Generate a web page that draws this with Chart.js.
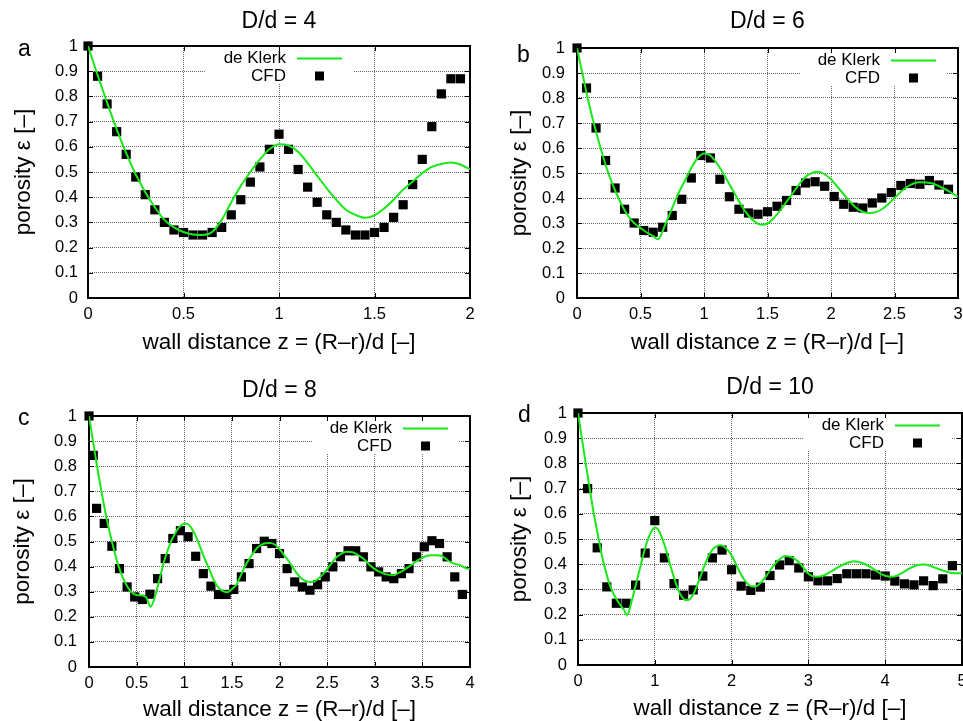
<!DOCTYPE html>
<html>
<head>
<meta charset="utf-8">
<title>porosity profiles</title>
<script src="https://cdn.jsdelivr.net/npm/chart.js@4.4.1/dist/chart.umd.min.js"></script>
<style>
  html, body { margin: 0; padding: 0; background: #fff; overflow: hidden; }
  body { width: 963px; height: 721px; position: relative; }
  canvas { position: absolute; }
</style>
</head>
<body>
<canvas id="chart-a" width="481" height="361" style="left:0;top:0"></canvas>
<canvas id="chart-b" width="490" height="361" style="left:481px;top:0"></canvas>
<canvas id="chart-c" width="481" height="360" style="left:0;top:361px"></canvas>
<canvas id="chart-d" width="490" height="360" style="left:481px;top:361px"></canvas>
<script>
// ---- data ----
var yTicks = [0, 0.1, 0.2, 0.3, 0.4, 0.5, 0.6, 0.7, 0.8, 0.9, 1];
var yTickLabels = ['0', '0.1', '0.2', '0.3', '0.4', '0.5', '0.6', '0.7', '0.8', '0.9', '1'];

// a) D/d = 4
var xTicksA = [0, 0.5, 1, 1.5, 2];
var zCfdA = [0, 0.05, 0.1, 0.15, 0.2, 0.25, 0.3, 0.35, 0.4, 0.45, 0.5, 0.55, 0.6, 0.65, 0.7, 0.75, 0.8, 0.85, 0.9, 0.95,
             1.0, 1.05, 1.1, 1.15, 1.2, 1.25, 1.3, 1.35, 1.4, 1.45, 1.5, 1.55, 1.6, 1.65, 1.7, 1.75, 1.8, 1.85, 1.9, 1.95];
var epsCfdA = [1.0, 0.88, 0.77, 0.66, 0.57, 0.48, 0.41, 0.35, 0.30, 0.27, 0.26, 0.25, 0.25, 0.26, 0.28, 0.33, 0.39, 0.46, 0.52, 0.59,
               0.65, 0.59, 0.51, 0.44, 0.38, 0.33, 0.30, 0.27, 0.25, 0.25, 0.26, 0.28, 0.32, 0.37, 0.45, 0.55, 0.68, 0.81, 0.87, 0.87];
var zKlerkA = [0, 0.05, 0.1, 0.15, 0.2, 0.25, 0.3, 0.35, 0.4, 0.45, 0.5, 0.55, 0.6, 0.65, 0.7, 0.75, 0.8, 0.85, 0.9, 0.95,
               1.0, 1.05, 1.1, 1.15, 1.2, 1.25, 1.3, 1.35, 1.4, 1.45, 1.5, 1.55, 1.6, 1.65, 1.7, 1.75, 1.8, 1.85, 1.9, 1.95, 2.0];
var epsKlerkA = [1.0, 0.885, 0.775, 0.67, 0.575, 0.49, 0.42, 0.36, 0.31, 0.28, 0.262, 0.252, 0.25, 0.262, 0.31, 0.38, 0.445, 0.50, 0.55, 0.59,
                 0.61, 0.605, 0.58, 0.535, 0.485, 0.435, 0.39, 0.35, 0.33, 0.318, 0.328, 0.355, 0.39, 0.43, 0.462, 0.495, 0.52, 0.532, 0.538, 0.53, 0.51];

// b) D/d = 6
var xTicksB = [0, 0.5, 1, 1.5, 2, 2.5, 3];
var zCfdB = [0, 0.075, 0.15, 0.225, 0.3, 0.375, 0.45, 0.525, 0.6, 0.675, 0.75, 0.825, 0.9, 0.975, 1.05, 1.125, 1.2, 1.275, 1.35, 1.425,
             1.5, 1.575, 1.65, 1.725, 1.8, 1.875, 1.95, 2.025, 2.1, 2.175, 2.25, 2.325, 2.4, 2.475, 2.55, 2.625, 2.7, 2.775, 2.85, 2.925];
var epsCfdB = [1.0, 0.84, 0.68, 0.55, 0.44, 0.355, 0.30, 0.27, 0.263, 0.283, 0.33, 0.395, 0.48, 0.57, 0.56, 0.475, 0.405, 0.355, 0.34, 0.335,
               0.345, 0.367, 0.39, 0.43, 0.46, 0.465, 0.447, 0.406, 0.375, 0.363, 0.36, 0.38, 0.40, 0.422, 0.45, 0.458, 0.455, 0.47, 0.452, 0.435];
var zKlerkB = [0, 0.05, 0.1, 0.15, 0.2, 0.25, 0.3, 0.35, 0.4, 0.45, 0.5, 0.55, 0.6, 0.637, 0.7, 0.75, 0.8, 0.85, 0.9, 0.95,
               1.0, 1.05, 1.1, 1.15, 1.2, 1.25, 1.3, 1.35, 1.4, 1.45, 1.5, 1.55, 1.6, 1.65, 1.7, 1.75, 1.8, 1.85, 1.9, 1.95,
               2.0, 2.05, 2.1, 2.15, 2.2, 2.25, 2.3, 2.35, 2.4, 2.45, 2.5, 2.55, 2.6, 2.65, 2.7, 2.75, 2.8, 2.85, 2.9, 2.95, 3.0];
var epsKlerkB = [1.0, 0.88, 0.765, 0.665, 0.575, 0.495, 0.43, 0.375, 0.33, 0.30, 0.28, 0.262, 0.248, 0.235, 0.30, 0.36, 0.42, 0.47, 0.52, 0.56,
                 0.578, 0.57, 0.54, 0.50, 0.455, 0.41, 0.365, 0.33, 0.305, 0.293, 0.298, 0.32, 0.35, 0.385, 0.42, 0.455, 0.485, 0.50, 0.505, 0.495,
                 0.475, 0.445, 0.415, 0.385, 0.36, 0.345, 0.34, 0.343, 0.355, 0.375, 0.40, 0.425, 0.445, 0.458, 0.463, 0.462, 0.458, 0.447, 0.435, 0.42, 0.405];

// c) D/d = 8
var xTicksC = [0, 0.5, 1, 1.5, 2, 2.5, 3, 3.5, 4];
var zCfdC = [0, 0.045, 0.08, 0.16, 0.24, 0.32, 0.40, 0.48, 0.56, 0.64, 0.72, 0.80, 0.88, 0.96, 1.04, 1.12, 1.20, 1.28, 1.36, 1.44,
             1.52, 1.60, 1.68, 1.76, 1.84, 1.92, 2.00, 2.08, 2.16, 2.24, 2.32, 2.40, 2.48, 2.56, 2.64, 2.72, 2.80, 2.88, 2.96, 3.04,
             3.12, 3.20, 3.28, 3.36, 3.44, 3.52, 3.60, 3.68, 3.76, 3.84, 3.92];
var epsCfdC = [1.0, 0.843, 0.632, 0.572, 0.481, 0.392, 0.319, 0.279, 0.269, 0.290, 0.352, 0.432, 0.512, 0.543, 0.519, 0.441, 0.372, 0.322, 0.289, 0.289,
               0.309, 0.359, 0.412, 0.472, 0.501, 0.492, 0.452, 0.392, 0.339, 0.319, 0.306, 0.328, 0.359, 0.399, 0.439, 0.463, 0.463, 0.439, 0.399, 0.379,
               0.359, 0.352, 0.372, 0.392, 0.439, 0.479, 0.503, 0.492, 0.439, 0.359, 0.289];
var zKlerkC = [0, 0.05, 0.1, 0.15, 0.2, 0.25, 0.3, 0.35, 0.4, 0.45, 0.5, 0.55, 0.6, 0.647, 0.7, 0.75, 0.8, 0.85, 0.9, 0.95,
               1.0, 1.05, 1.1, 1.15, 1.2, 1.25, 1.3, 1.35, 1.4, 1.45, 1.5, 1.55, 1.6, 1.65, 1.7, 1.75, 1.8, 1.85, 1.9, 1.95,
               2.0, 2.05, 2.1, 2.15, 2.2, 2.25, 2.3, 2.35, 2.4, 2.45, 2.5, 2.55, 2.6, 2.65, 2.7, 2.75, 2.8, 2.85, 2.9, 2.95,
               3.0, 3.05, 3.1, 3.15, 3.2, 3.25, 3.3, 3.35, 3.4, 3.45, 3.5, 3.55, 3.6, 3.65, 3.7, 3.75, 3.8, 3.85, 3.9, 3.95, 4.0];
var epsKlerkC = [1.0, 0.88, 0.765, 0.66, 0.565, 0.485, 0.415, 0.36, 0.322, 0.297, 0.287, 0.285, 0.278, 0.24, 0.29, 0.365, 0.435, 0.49, 0.53, 0.558,
                 0.572, 0.566, 0.538, 0.495, 0.445, 0.40, 0.355, 0.32, 0.303, 0.298, 0.31, 0.33, 0.37, 0.41, 0.44, 0.468, 0.485, 0.493, 0.494, 0.488,
                 0.47, 0.445, 0.42, 0.39, 0.365, 0.347, 0.34, 0.339, 0.35, 0.367, 0.39, 0.415, 0.438, 0.452, 0.459, 0.458, 0.452, 0.44, 0.425, 0.405,
                 0.39, 0.38, 0.371, 0.367, 0.366, 0.375, 0.385, 0.398, 0.41, 0.425, 0.435, 0.443, 0.445, 0.445, 0.443, 0.43, 0.417, 0.41, 0.405, 0.395, 0.39];

// d) D/d = 10
var xTicksD = [0, 1, 2, 3, 4, 5];
var zCfdD = [0, 0.125, 0.25, 0.375, 0.5, 0.625, 0.75, 0.875, 1.0, 1.125, 1.25, 1.375, 1.5, 1.625, 1.75, 1.875, 2.0, 2.125, 2.25, 2.375,
             2.5, 2.625, 2.75, 2.875, 3.0, 3.125, 3.25, 3.375, 3.5, 3.625, 3.75, 3.875, 4.0, 4.125, 4.25, 4.375, 4.5, 4.625, 4.75, 4.875];
var epsCfdD = [1.0, 0.70, 0.465, 0.31, 0.245, 0.245, 0.317, 0.444, 0.573, 0.425, 0.323, 0.277, 0.298, 0.353, 0.425, 0.456, 0.378, 0.313, 0.296, 0.309,
               0.355, 0.397, 0.414, 0.385, 0.35, 0.334, 0.334, 0.343, 0.362, 0.362, 0.362, 0.357, 0.353, 0.333, 0.322, 0.318, 0.334, 0.315, 0.342, 0.394];
var zKlerkD = [0, 0.05, 0.1, 0.15, 0.2, 0.25, 0.3, 0.35, 0.4, 0.45, 0.5, 0.55, 0.6, 0.638, 0.7, 0.75, 0.8, 0.85, 0.9, 0.95,
               1.0, 1.05, 1.1, 1.15, 1.2, 1.25, 1.3, 1.35, 1.4, 1.45, 1.5, 1.55, 1.6, 1.65, 1.7, 1.75, 1.8, 1.85, 1.9, 1.95,
               2.0, 2.05, 2.1, 2.15, 2.2, 2.25, 2.3, 2.35, 2.4, 2.45, 2.5, 2.6, 2.7, 2.8, 2.9, 3.0, 3.1, 3.2, 3.3, 3.4,
               3.5, 3.6, 3.7, 3.8, 3.9, 4.0, 4.1, 4.2, 4.3, 4.4, 4.5, 4.6, 4.7, 4.8, 4.9, 5.0];
var epsKlerkD = [1.0, 0.90, 0.80, 0.705, 0.61, 0.53, 0.45, 0.385, 0.331, 0.29, 0.262, 0.238, 0.218, 0.198, 0.255, 0.315, 0.375, 0.437, 0.49, 0.527,
                 0.546, 0.535, 0.50, 0.453, 0.398, 0.347, 0.302, 0.272, 0.258, 0.26, 0.28, 0.315, 0.355, 0.397, 0.432, 0.458, 0.47, 0.475, 0.47, 0.456,
                 0.435, 0.405, 0.372, 0.345, 0.325, 0.313, 0.311, 0.318, 0.334, 0.353, 0.375, 0.413, 0.433, 0.425, 0.40, 0.362, 0.35, 0.355, 0.372, 0.39,
                 0.405, 0.412, 0.405, 0.39, 0.37, 0.354, 0.35, 0.362, 0.38, 0.395, 0.399, 0.392, 0.38, 0.37, 0.364, 0.364];

// ---- drawing ----
Chart.defaults.font.family = "'Liberation Sans', Arial, Helvetica, sans-serif";
Chart.defaults.color = '#000';

function pairs(xs, ys) {
    return xs.map(function (x, i) { return { x: x, y: ys[i] }; });
}

// gnuplot-like frame, inward tick marks, key box and panel letter
var gnuFrame = {
    id: 'gnuFrame',
    beforeDatasetsDraw: function (chart, args, opts) {
        var ctx = chart.ctx, a = chart.chartArea;
        var L = a.right - opts.keyShift;
        ctx.save();
        // key box hides the grid behind it
        ctx.fillStyle = '#fff';
        ctx.fillRect(L - 136, a.top, 147, 38);

        // frame
        ctx.strokeStyle = '#000';
        ctx.lineWidth = 2;
        ctx.strokeRect(a.left, a.top, a.right - a.left, a.bottom - a.top);

        // tick marks pointing in, on all four sides
        ctx.lineWidth = 1;
        ctx.beginPath();
        var xs = chart.scales.x, ys = chart.scales.y;
        xs.ticks.forEach(function (t) {
            var px = Math.round(xs.getPixelForValue(t.value)) + 0.5;
            ctx.moveTo(px, a.bottom); ctx.lineTo(px, a.bottom - 5);
            ctx.moveTo(px, a.top); ctx.lineTo(px, a.top + 5);
        });
        ys.ticks.forEach(function (t) {
            var py = Math.round(ys.getPixelForValue(t.value)) + 0.5;
            ctx.moveTo(a.left, py); ctx.lineTo(a.left + 5, py);
            ctx.moveTo(a.right, py); ctx.lineTo(a.right - 5, py);
        });
        ctx.stroke();

        // key entries: text right-aligned, sample on the right
        ctx.font = '17px ' + Chart.defaults.font.family;
        ctx.textAlign = 'right';
        ctx.textBaseline = 'middle';
        chart.data.datasets.forEach(function (ds, i) {
            var y = a.top + 12.5 + i * 17.5;
            ctx.fillStyle = '#000';
            ctx.fillText(ds.label, L - 56, y);
            if (ds.showLine) {
                ctx.strokeStyle = ds.borderColor;
                ctx.lineWidth = ds.borderWidth;
                ctx.beginPath();
                ctx.moveTo(L - 45, y); ctx.lineTo(L, y);
                ctx.stroke();
            } else {
                ctx.fillStyle = ds.pointBackgroundColor;
                ctx.fillRect(L - 27, y - 4.5, 9, 9);
            }
        });

        // panel letter
        ctx.fillStyle = '#000';
        ctx.textAlign = 'left';
        ctx.textBaseline = 'alphabetic';
        ctx.font = '23px ' + Chart.defaults.font.family;
        ctx.fillText(opts.letter, opts.letterX, opts.letterY);
        ctx.restore();
    }
};

function makeChart(id, p) {
    new Chart(document.getElementById(id), {
        type: 'scatter',
        data: {
            datasets: [
                {
                    label: 'de Klerk',
                    type: 'line',
                    data: pairs(p.zKlerk, p.epsKlerk),
                    showLine: true,
                    borderColor: '#18e818',
                    borderWidth: 2,
                    pointRadius: 0,
                    cubicInterpolationMode: 'monotone',
                    fill: false
                },
                {
                    label: 'CFD',
                    data: pairs(p.zCfd, p.epsCfd),
                    showLine: false,
                    pointStyle: 'rect',
                    pointRadius: 6.5,
                    pointBorderWidth: 0,
                    pointBackgroundColor: '#000',
                    clip: false
                }
            ]
        },
        options: {
            responsive: false,
            animation: false,
            events: [],
            layout: { padding: { left: 0, right: p.padR, top: 0, bottom: 0 } },
            plugins: {
                legend: { display: false },
                tooltip: { enabled: false },
                title: {
                    display: true,
                    text: p.title,
                    fullSize: false,
                    color: '#000',
                    font: { size: 23, weight: 'normal', lineHeight: 1 },
                    padding: { top: p.tPadTop, bottom: p.tPadBot }
                },
                gnuFrame: { keyShift: p.keyShift, letter: p.letter, letterX: p.letterX, letterY: p.letterY }
            },
            scales: {
                x: {
                    type: 'linear',
                    min: p.xTicks[0],
                    max: p.xTicks[p.xTicks.length - 1],
                    afterBuildTicks: function (s) { s.ticks = p.xTicks.map(function (v) { return { value: v }; }); },
                    afterFit: function (s) { s.height = p.xH; s.paddingLeft = 0; s.paddingRight = 0; },
                    grid: { color: '#666', lineWidth: 1, drawTicks: false },
                    border: { display: false, dash: [1, 1] },
                    ticks: {
                        padding: 7, maxRotation: 0, autoSkip: false, font: { size: 16.5 },
                        callback: function (v) { return String(v); }
                    },
                    title: {
                        display: true,
                        text: 'wall distance z = (R–r)/d [–]',
                        font: { size: 22.5, lineHeight: 1 },
                        padding: { top: 0, bottom: p.xtPad }
                    }
                },
                y: {
                    type: 'linear',
                    min: 0,
                    max: 1,
                    afterBuildTicks: function (s) { s.ticks = yTicks.map(function (v) { return { value: v }; }); },
                    afterFit: function (s) { s.width = p.yW; s.paddingTop = 0; s.paddingBottom = 0; },
                    grid: { color: '#666', lineWidth: 1, drawTicks: false },
                    border: { display: false, dash: [1, 1] },
                    ticks: {
                        padding: p.yTickPad, font: { size: 16.5 },
                        callback: function (v, i) { return yTickLabels[i]; }
                    },
                    title: {
                        display: true,
                        text: 'porosity ε [–]',
                        font: { size: 22.5, lineHeight: 1 },
                        padding: { top: p.ytPad, bottom: 0 }
                    }
                }
            }
        },
        plugins: [gnuFrame]
    });
}

makeChart('chart-a', {
    title: 'D/d = 4', letter: 'a', letterX: 18, letterY: 56,
    xTicks: xTicksA, zCfd: zCfdA, epsCfd: epsCfdA, zKlerk: zKlerkA, epsKlerk: epsKlerkA,
    padR: 11, yW: 88, xH: 63, tPadTop: 10.5, tPadBot: 12.5, xtPad: 6.5, ytPad: 12.5, yTickPad: 10, keyShift: 128
});
makeChart('chart-b', {
    title: 'D/d = 6', letter: 'b', letterX: 36, letterY: 62,
    xTicks: xTicksB, zCfd: zCfdB, epsCfd: epsCfdB, zKlerk: zKlerkB, epsKlerk: epsKlerkB,
    padR: 13, yW: 96, xH: 63, tPadTop: 10.5, tPadBot: 14.5, xtPad: 6.5, ytPad: 27.5, yTickPad: 12, keyShift: 22
});
makeChart('chart-c', {
    title: 'D/d = 8', letter: 'c', letterX: 18, letterY: 64,
    xTicks: xTicksC, zCfd: zCfdC, epsCfd: epsCfdC, zKlerk: zKlerkC, epsKlerk: epsKlerkC,
    padR: 11, yW: 89, xH: 54, tPadTop: 18.5, tPadBot: 13.5, xtPad: 0, ytPad: 12, yTickPad: 12, keyShift: 22
});
makeChart('chart-d', {
    title: 'D/d = 10', letter: 'd', letterX: 37, letterY: 61,
    xTicks: xTicksD, zCfd: zCfdD, epsCfd: epsCfdD, zKlerk: zKlerkD, epsKlerk: epsKlerkD,
    padR: 9, yW: 97, xH: 56, tPadTop: 15, tPadBot: 14, xtPad: 0.5, ytPad: 27.5, yTickPad: 11, keyShift: 22
});
</script>
</body>
</html>
